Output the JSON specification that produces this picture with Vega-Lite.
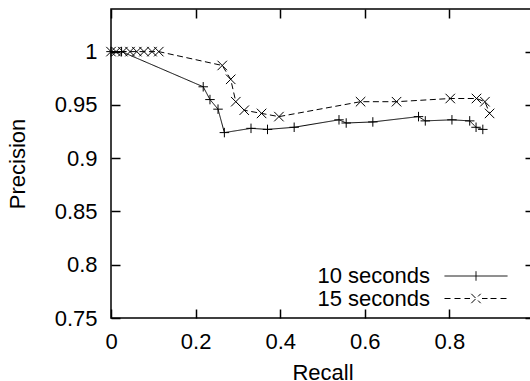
{
  "$schema": "https://vega.github.io/schema/vega-lite/v6.json",
  "width": 423,
  "height": 309,
  "autosize": {"type": "none"},
  "padding": {"left": 111, "top": 9, "right": -4, "bottom": 63},
  "background": "white",
  "config": {
    "view": {"stroke": "black", "strokeWidth": 1.5},
    "font": "Liberation Sans",
    "axis": {
      "grid": false,
      "domain": false,
      "tickColor": "black",
      "tickWidth": 1.5,
      "tickSize": -9,
      "labelFont": "Liberation Sans",
      "labelFontSize": 22,
      "labelColor": "black",
      "labelFlush": false,
      "labelOverlap": false,
      "titleFont": "Liberation Sans",
      "titleFontSize": 22,
      "titleFontWeight": "normal",
      "titleColor": "black"
    }
  },
  "data": {
    "values": [
      {"series": "10 seconds", "recall": 0.0, "precision": 1.0},
      {"series": "10 seconds", "recall": 0.025, "precision": 1.0},
      {"series": "10 seconds", "recall": 0.218, "precision": 0.967},
      {"series": "10 seconds", "recall": 0.234, "precision": 0.955},
      {"series": "10 seconds", "recall": 0.253, "precision": 0.946},
      {"series": "10 seconds", "recall": 0.268, "precision": 0.924},
      {"series": "10 seconds", "recall": 0.331, "precision": 0.928},
      {"series": "10 seconds", "recall": 0.37, "precision": 0.927},
      {"series": "10 seconds", "recall": 0.433, "precision": 0.929},
      {"series": "10 seconds", "recall": 0.539, "precision": 0.936},
      {"series": "10 seconds", "recall": 0.556, "precision": 0.933},
      {"series": "10 seconds", "recall": 0.619, "precision": 0.934},
      {"series": "10 seconds", "recall": 0.727, "precision": 0.939},
      {"series": "10 seconds", "recall": 0.743, "precision": 0.935},
      {"series": "10 seconds", "recall": 0.806, "precision": 0.936},
      {"series": "10 seconds", "recall": 0.848, "precision": 0.935},
      {"series": "10 seconds", "recall": 0.863, "precision": 0.929},
      {"series": "10 seconds", "recall": 0.879, "precision": 0.927},
      {"series": "15 seconds", "recall": 0.0, "precision": 1.0},
      {"series": "15 seconds", "recall": 0.012, "precision": 1.0},
      {"series": "15 seconds", "recall": 0.028, "precision": 1.0},
      {"series": "15 seconds", "recall": 0.045, "precision": 1.0},
      {"series": "15 seconds", "recall": 0.061, "precision": 1.0},
      {"series": "15 seconds", "recall": 0.078, "precision": 1.0},
      {"series": "15 seconds", "recall": 0.097, "precision": 1.0},
      {"series": "15 seconds", "recall": 0.113, "precision": 1.0},
      {"series": "15 seconds", "recall": 0.263, "precision": 0.987},
      {"series": "15 seconds", "recall": 0.283, "precision": 0.974},
      {"series": "15 seconds", "recall": 0.295, "precision": 0.953},
      {"series": "15 seconds", "recall": 0.315, "precision": 0.945},
      {"series": "15 seconds", "recall": 0.356, "precision": 0.942},
      {"series": "15 seconds", "recall": 0.397, "precision": 0.939},
      {"series": "15 seconds", "recall": 0.59, "precision": 0.953},
      {"series": "15 seconds", "recall": 0.675, "precision": 0.953},
      {"series": "15 seconds", "recall": 0.802, "precision": 0.956},
      {"series": "15 seconds", "recall": 0.864, "precision": 0.956},
      {"series": "15 seconds", "recall": 0.884, "precision": 0.953},
      {"series": "15 seconds", "recall": 0.895, "precision": 0.942}
    ]
  },
  "layer": [
    {
      "mark": {"type": "line", "color": "black", "strokeWidth": 1},
      "encoding": {
        "x": {
          "field": "recall", "type": "quantitative",
          "scale": {"domain": [0, 1], "nice": false, "zero": false},
          "axis": {"orient": "bottom", "values": [0, 0.2, 0.4, 0.6, 0.8, 1], "format": "~g", "labelPadding": 22, "labelExpr": "datum.value >= 1 ? '' : datum.label", "title": "Recall", "titlePadding": 10}
        },
        "y": {
          "field": "precision", "type": "quantitative",
          "scale": {"domain": [0.75, 1.04], "nice": false, "zero": false},
          "axis": {"orient": "left", "values": [0.75, 0.8, 0.85, 0.9, 0.95, 1], "format": "~g", "labelPadding": 23, "title": "Precision", "titlePadding": 25}
        },
        "strokeDash": {
          "field": "series", "type": "nominal",
          "scale": {"domain": ["10 seconds", "15 seconds"], "range": [[1, 0], [6, 3.5]]},
          "legend": {
            "orient": "none",
            "legendX": 354,
            "legendY": 256,
            "title": null,
            "padding": 0,
            "labelFont": "Liberation Sans",
            "labelFontSize": 22,
            "labelColor": "black",
            "labelAlign": "right",
            "labelOffset": -57,
            "symbolSize": 100,
            "symbolStrokeColor": "black",
            "symbolStrokeWidth": 1,
            "rowPadding": 0.5,
            "encode": {
              "symbols": {
                "update": {
                  "shape": {"signal": "datum.value === '10 seconds' ? 'M-6.3,0L6.3,0M0,-0.95L0,0.95' : 'M-6.3,0L-4.9,0M-4.3,0L-2.9,0M-2.3,0L-1.2,0M1.2,0L2.3,0M2.9,0L4.3,0M4.9,0L6.3,0M-0.94,-0.94L0.94,0.94M-0.94,0.94L0.94,-0.94'"},
                  "strokeDash": {"value": []},
                  "stroke": {"value": "black"},
                  "fill": {"value": "transparent"}
                }
              }
            }
          }
        }
      }
    },
    {
      "transform": [{"filter": "datum.series === '10 seconds'"}],
      "mark": {"type": "point", "filled": false, "color": "black", "strokeWidth": 1, "size": 90, "opacity": 1, "shape": "M-1,0L1,0M0,-1L0,1"},
      "encoding": {
        "x": {
          "field": "recall", "type": "quantitative",
          "scale": {"domain": [0, 1], "nice": false, "zero": false},
          "axis": {"orient": "top", "values": [0, 0.2, 0.4, 0.6, 0.8, 1], "labels": false, "title": null}
        },
        "y": {
          "field": "precision", "type": "quantitative",
          "scale": {"domain": [0.75, 1.04], "nice": false, "zero": false},
          "axis": {"orient": "right", "values": [0.75, 0.8, 0.85, 0.9, 0.95, 1], "labels": false, "title": null}
        }
      }
    },
    {
      "transform": [{"filter": "datum.series === '15 seconds'"}],
      "mark": {"type": "point", "filled": false, "color": "black", "strokeWidth": 1, "size": 90, "opacity": 1, "shape": "M-1,-1L1,1M-1,1L1,-1"},
      "encoding": {
        "x": {
          "field": "recall", "type": "quantitative",
          "scale": {"domain": [0, 1], "nice": false, "zero": false},
          "axis": null
        },
        "y": {
          "field": "precision", "type": "quantitative",
          "scale": {"domain": [0.75, 1.04], "nice": false, "zero": false},
          "axis": null
        }
      }
    }
  ],
  "resolve": {"axis": {"x": "independent", "y": "independent"}}
}
